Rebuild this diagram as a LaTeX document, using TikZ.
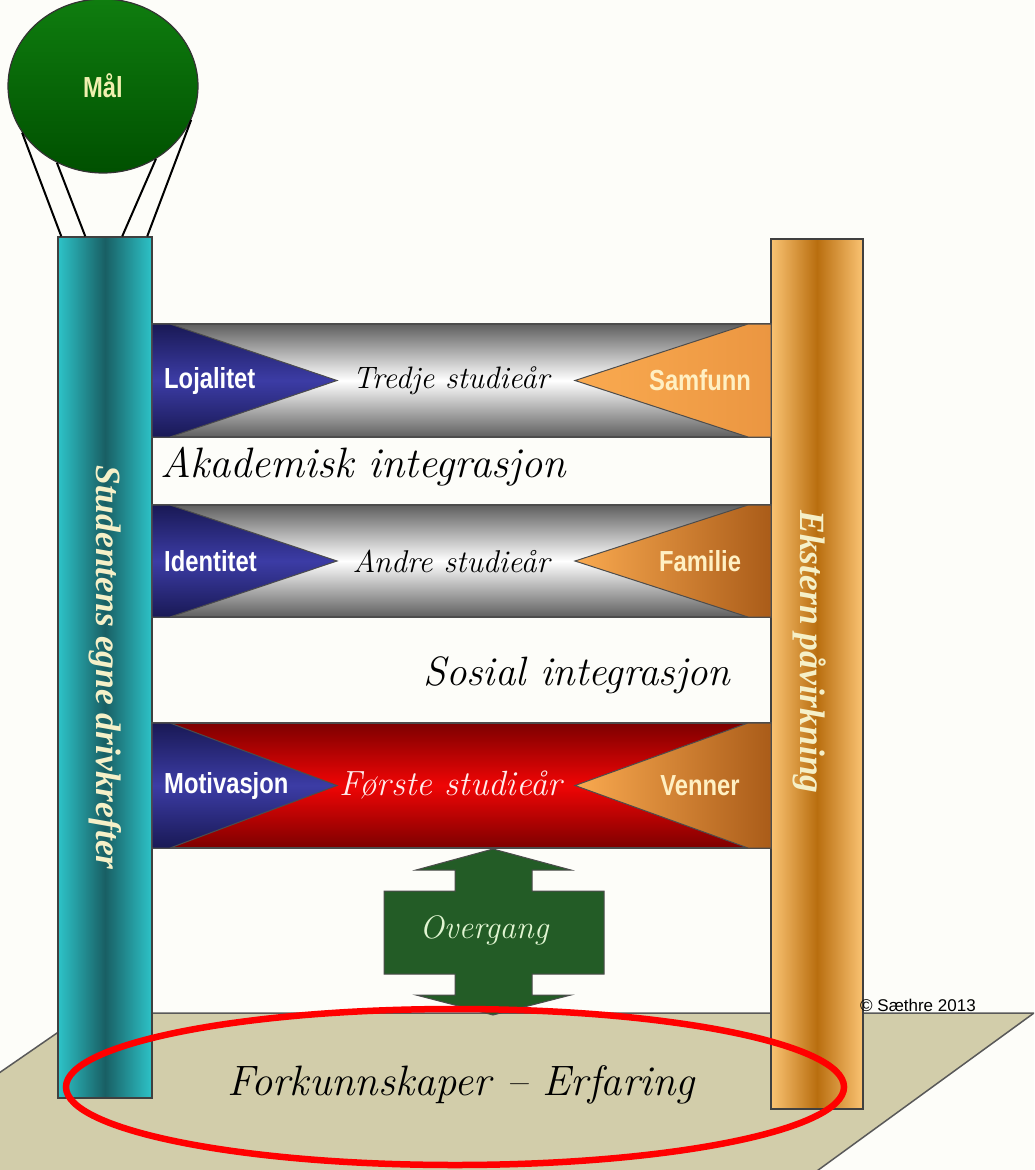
\documentclass[tikz,border=0pt]{standalone}
\usepackage{fontspec}
\newfontfamily\timesfont{Liberation Serif}
\newfontfamily\narrowsans[FakeStretch=0.82]{Liberation Sans}
\newfontfamily\plainsans{Liberation Sans}
\usetikzlibrary{positioning,shapes.geometric,calc}

\definecolor{bgwhite}{RGB}{253,253,249}
\definecolor{tealside}{RGB}{45,195,200}
\definecolor{tealmid}{RGB}{25,95,100}
\definecolor{ambside}{RGB}{250,195,115}
\definecolor{ambmid}{RGB}{185,110,15}
\definecolor{floortan}{RGB}{210,205,170}
\definecolor{navyside}{RGB}{25,25,85}
\definecolor{navymid}{RGB}{60,60,165}
\definecolor{orlight}{RGB}{250,170,80}
\definecolor{ordark}{RGB}{170,92,25}
\definecolor{orsoft}{RGB}{235,150,65}
\definecolor{barside}{RGB}{95,95,95}
\definecolor{redside}{RGB}{125,0,0}
\definecolor{redmid}{RGB}{240,5,5}
\definecolor{arrgreen}{RGB}{35,92,38}
\definecolor{ballontop}{RGB}{15,125,15}
\definecolor{ballonbot}{RGB}{0,80,0}
\definecolor{lbltxt}{RGB}{245,240,200}
\definecolor{creamtxt}{RGB}{255,240,195}
\definecolor{maltxt}{RGB}{240,240,175}
\definecolor{pinktxt}{RGB}{255,235,235}
\definecolor{overgtxt}{RGB}{225,245,210}

\tikzset{
  tealcol/.style={draw=black!75, line width=1.5pt, left color=tealside, right color=tealside, middle color=tealmid,
    minimum width=94pt, minimum height=861pt, inner sep=0pt},
  ambcol/.style={draw=black!75, line width=1.5pt, left color=ambside, right color=ambside, middle color=ambmid,
    minimum width=92pt, minimum height=870pt, inner sep=0pt},
  coltext/.style={rotate=-90, text=lbltxt, font=\timesfont\bfseries\itshape\fontsize{35.5}{40}\selectfont},
  tag/.style={font=\narrowsans\bfseries\fontsize{29}{34}\selectfont, inner sep=0pt},
  fancy/.style={font=\itshape\fontsize{#1}{#1}\selectfont, inner sep=0pt},
  fancy/.default=30,
  navyflag/.style={draw=black!70, line width=1pt, top color=navyside, bottom color=navyside, middle color=navymid},
  orflag/.style={draw=black!70, line width=1pt, left color=orlight, right color=#1},
}

\begin{document}
\begin{tikzpicture}[x=1pt, y=-1pt]
\fill[bgwhite] (0,0) rectangle (1034,1170);
\useasboundingbox (0,0) rectangle (1034,1170);

% gulv
\begin{scope}
  \clip (0,0) rectangle (1034,1170);
  \filldraw[fill=floortan, draw=black!65, line width=1.5pt] (86,1013) -- (1034,1013) -- (777,1200) -- (-185,1200) -- cycle;
\end{scope}

% soyler
\node[tealcol] (stud) at (105,667.5) {};
\node[ambcol] (ekst) at (817,674) {};
\node[coltext] (studtxt) at (stud.center) {Studentens egne drivkrefter};
\node[coltext] (eksttxt) at (810,652) {Ekstern påvirkning};

% trinn
\foreach \n/\t/\b/\edge/\core/\midcol/\ordk/\lft/\midtxt/\rgt/\fs in {
    1/324/437/barside/white/black/orsoft/Lojalitet/Tredje studieår/Samfunn/31,
    2/505/617/barside/white/black/ordark/Identitet/Andre studieår/Familie/31.5,
    3/723/848/redside/redmid/pinktxt/ordark/Motivasjon/Første studieår/Venner/35}
{
  \pgfmathsetmacro\midy{(\t+\b)/2}
  \path[draw=black!70, line width=1.2pt, top color=\edge, bottom color=\edge, middle color=\core] (152,\t) rectangle (771,\b);
  \path[navyflag] (152,\t) -- (170,\t) -- (337,\midy) -- (170,\b) -- (152,\b) -- cycle;
  \path[orflag=\ordk] (771,\t) -- (748,\t) -- (575,\midy) -- (748,\b) -- (771,\b) -- cycle;
  \node[tag, text=white, anchor=west] (venstre\n) at (164,\midy) {\lft};
  \node[tag, text=creamtxt] (hoyre\n) at (700,\midy) {\rgt};
  \node[fancy=\fs, text=\midcol] (midt\n) at (451,\midy) {\midtxt};
}

\node[fancy=42.5, anchor=west] (akad) at (160,467) {Akademisk integrasjon};
\node[fancy=41] (sosial) at (577,675) {Sosial integrasjon};

% overgang
\filldraw[fill=arrgreen, draw=black!70, line width=1pt] (493,849) -- (571,870) -- (532,870) -- (532,891) -- (604,891)
  -- (604,974) -- (532,974) -- (532,995) -- (571,995) -- (493,1015) -- (416,995) -- (455,995) -- (455,974)
  -- (384,974) -- (384,891) -- (455,891) -- (455,870) -- (416,870) -- cycle;
\node[fancy=32.5, text=overgtxt] (overg) at (484,930) {Overgang};

% grunnmur
\draw[red, line width=6.5pt] (455,1087) ellipse [x radius=389, y radius=78];
\node[fancy=42.5] (forkunn) at (461,1085) {Forkunnskaper -- Erfaring};
\node[font=\plainsans\fontsize{17}{20}\selectfont, anchor=west, inner sep=0pt] (copy) at (860,1005) {© Sæthre 2013};

% ballong
\node[ellipse, minimum width=190pt, minimum height=174pt, draw=black!80, line width=1.2pt,
  top color=ballontop, bottom color=ballonbot, text=maltxt,
  font=\narrowsans\bfseries\fontsize{29}{34}\selectfont] (mal) at (103,86) {Mål};
\foreach \a/\d in {210/4, 239/28, 306/65, 339/90}
  \draw[line width=2pt] (mal.\a) -- ($(stud.north west)+(\d,0)$);
\end{tikzpicture}
\end{document}
